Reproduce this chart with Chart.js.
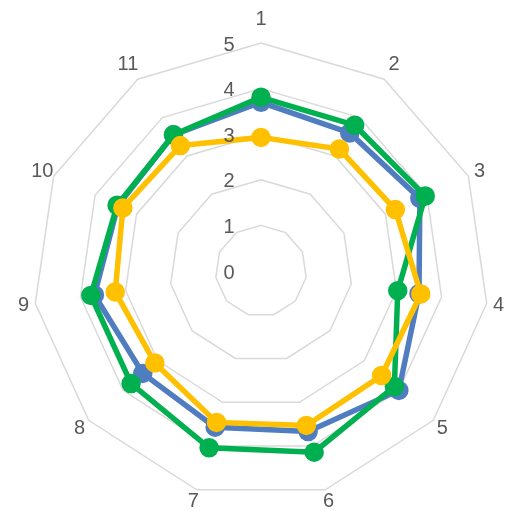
<!DOCTYPE html>
<html><head><meta charset="utf-8">
<script src="https://cdn.jsdelivr.net/npm/chart.js"></script>
<style>html,body{margin:0;padding:0;background:#fff}#wrap{width:520px;height:511px}</style>
</head><body><div id="wrap"><canvas id="c"></canvas></div>
<script>
const categories = ['1','2','3','4','5','6','7','8','9','10','11'];
const seriesBlue = [3.7, 3.6, 3.83, 3.5, 4.0, 3.67, 3.57, 3.43, 3.69, 3.45, 3.55];
const seriesGreen = [3.81, 3.8, 3.96, 3.03, 3.87, 4.14, 4.04, 3.77, 3.77, 3.47, 3.55];
const seriesYellow = [2.93, 3.18, 3.24, 3.54, 3.5, 3.53, 3.46, 3.08, 3.23, 3.33, 3.27];
const tickValues = [0, 1, 2, 3, 4, 5];

const FONT = '20px "Liberation Sans", Arial, sans-serif';
const TEXT = '#595959';

function ds(label, data, color, order) {
  return { label, data, borderColor: color, backgroundColor: color, pointBackgroundColor: color,
    pointBorderColor: color, borderWidth: 5.5, pointRadius: 7, fill: false, order };
}

// labels drawn by hand so the plot keeps the reference radius
const labelsPlugin = {
  id: 'labels',
  afterDraw(chart) {
    const s = chart.scales.r, ctx = chart.ctx;
    ctx.save();
    ctx.font = FONT; ctx.fillStyle = TEXT;
    ctx.textAlign = 'center'; ctx.textBaseline = 'middle';
    categories.forEach((c, i) => {
      const up = Math.max(0, Math.cos(i * 2 * Math.PI / categories.length));
      const p = s.getPointPosition(i, s.drawingArea + 12 + 12 * Math.pow(up, 4));
      ctx.fillText(c, p.x, p.y);
    });
    tickValues.forEach(v => {
      ctx.fillText(String(v), s.xCenter - 32, s.yCenter - s.getDistanceFromCenterForValue(v) + 2);
    });
    ctx.restore();
  }
};

new Chart(document.getElementById('c'), {
  type: 'radar',
  data: { labels: categories, datasets: [
    ds('Series 1', seriesBlue, '#4f7dc0', 3),
    ds('Series 2', seriesGreen, '#00b050', 2),
    ds('Series 3', seriesYellow, '#ffc000', 1)
  ] },
  options: {
    responsive: true, maintainAspectRatio: false, animation: false,
    plugins: { legend: { display: false }, tooltip: { enabled: false } },
    scales: { r: {
      min: 0, max: 5,
      afterBuildTicks: s => { s.ticks = tickValues.map(v => ({ value: v })); },
      afterFit: s => { s.xCenter = 261; s.yCenter = 271; s.drawingArea = 228; },
      angleLines: { display: false },
      grid: { color: '#d9d9d9', lineWidth: 1.5 },
      ticks: { display: false },
      pointLabels: { display: false }
    } }
  },
  plugins: [labelsPlugin]
});
</script></body></html>
